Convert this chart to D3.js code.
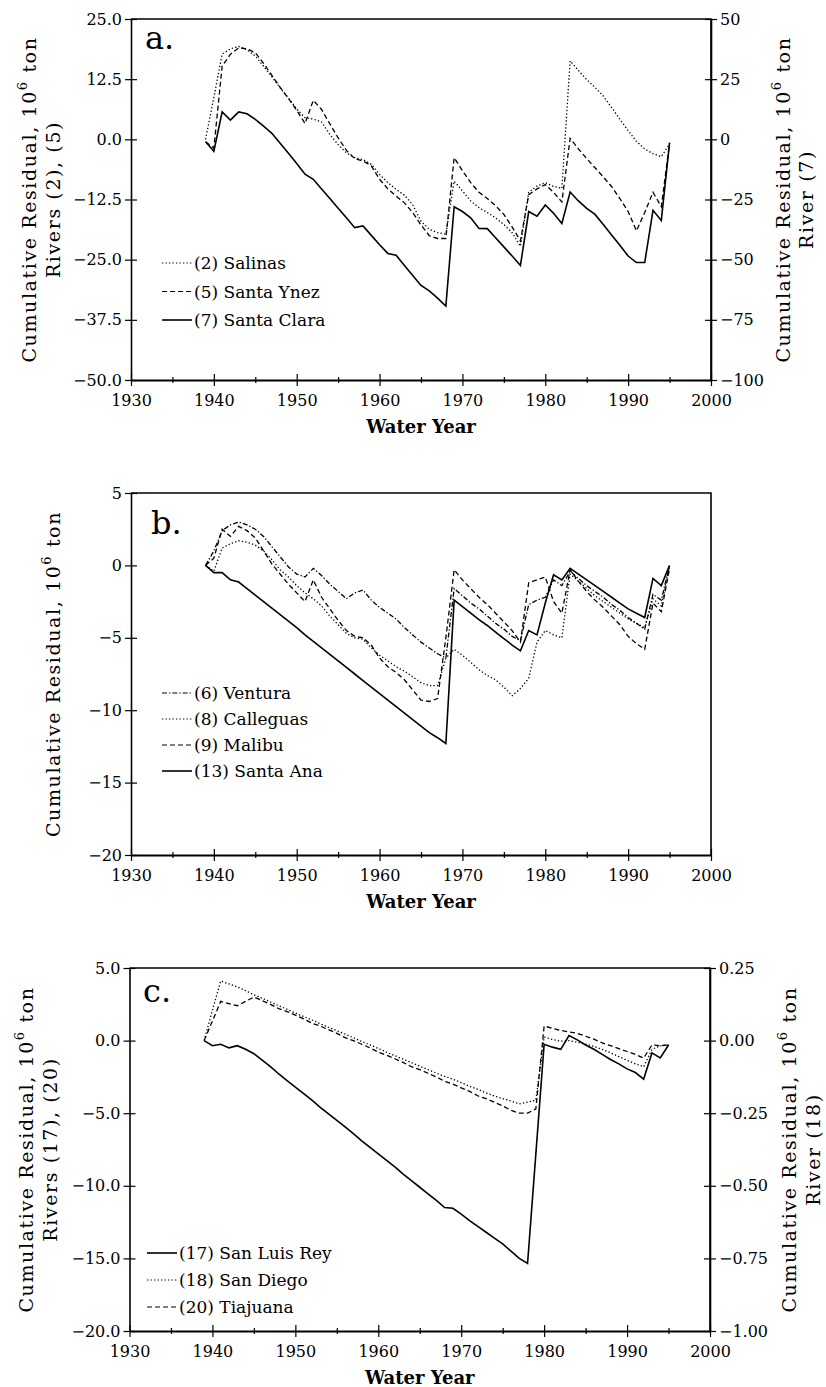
<!DOCTYPE html>
<html>
<head>
<meta charset="utf-8">
<script src="https://cdn.jsdelivr.net/npm/d3@7"></script>
<style>
body { margin: 0; background: #fff; }
svg text { font-family: "DejaVu Serif", serif; fill: #000; }
</style>
</head>
<body>
<div id="chart"></div>
<script>
var years = d3.range(1939, 1996);

// a. left axis rivers (2), (5); right axis river (7)
var salinas = [0.0, 8.7, 17.7, 18.8, 19.3, 18.6, 17.3, 15.2, 13.0, 10.7,
  8.6, 6.3, 4.5, 4.2, 3.6, 1.0, -1.1, -2.8, -3.8, -4.2,
  -5.2, -7.3, -9.0, -10.4, -11.6, -13.6, -17.0, -18.7, -19.4, -19.7,
  -8.7, -10.7, -12.8, -14.2, -15.2, -16.3, -17.7, -19.4, -22.2, -11.0,
  -9.7, -9.0, -9.8, -10.2, 16.3, 14.3, 12.4, 10.8, 9.0, 6.6,
  4.2, 1.8, -0.4, -2.0, -3.0, -3.6, -1.0];
var santaYnez = [-0.5, -1.8, 15.2, 17.7, 19.0, 18.8, 18.0, 15.8, 13.3, 10.8,
  8.5, 6.0, 3.3, 8.1, 6.2, 3.2, 0.3, -2.3, -4.0, -4.5,
  -5.5, -8.3, -10.3, -11.8, -13.2, -15.2, -17.8, -20.0, -20.6, -20.6,
  -3.8, -6.5, -9.0, -11.0, -12.3, -13.8, -15.6, -18.2, -21.1, -11.5,
  -10.3, -9.4, -11.0, -13.0, 0.2, -2.0, -4.0, -5.9, -7.8, -9.8,
  -12.3, -15.0, -19.0, -15.2, -11.0, -14.0, -0.8];
var santaClara = [-1.0, -5.0, 11.4, 8.0, 11.4, 10.6, 8.3, 5.5, 2.5, -1.6,
  -5.8, -10.0, -14.5, -16.6, -20.6, -24.6, -28.6, -32.6, -36.7, -36.0,
  -39.9, -43.8, -47.4, -48.2, -52.4, -56.6, -60.7, -63.0, -66.0, -69.3,
  -28.0, -30.0, -32.6, -37.0, -37.1, -40.9, -44.7, -48.5, -52.4, -30.0,
  -31.9, -27.3, -30.7, -35.0, -21.9, -25.6, -28.7, -31.2, -35.4, -39.7,
  -44.0, -48.5, -51.2, -51.2, -29.5, -33.7, -1.4];

// b.
var ventura = [0.0, 1.0, 2.4, 2.8, 3.0, 2.8, 2.5, 2.0, 1.3, 0.6,
  -0.1, -0.6, -0.8, -0.2, -0.7, -1.3, -1.8, -2.3, -1.9, -1.7,
  -2.4, -2.9, -3.3, -3.7, -4.3, -4.8, -5.3, -5.7, -6.1, -6.4,
  -1.6, -2.1, -2.6, -3.0, -3.5, -4.0, -4.4, -4.9, -5.2, -2.7,
  -2.4, -2.2, -1.0, -1.4, -0.4, -0.9, -1.4, -1.8, -2.2, -2.7,
  -3.1, -3.6, -4.0, -4.4, -2.0, -2.4, 0.0];
var calleguas = [0.0, -0.4, 1.2, 1.5, 1.7, 1.6, 1.4, 1.0, 0.4, -0.3,
  -0.8, -1.4, -1.9, -2.3, -2.8, -3.5, -4.1, -4.7, -5.0, -5.1,
  -5.7, -6.2, -6.6, -7.0, -7.3, -7.7, -8.1, -8.3, -8.3, -6.4,
  -5.8, -6.2, -6.7, -7.2, -7.6, -7.9, -8.4, -9.0, -8.5, -7.8,
  -5.3, -4.5, -4.8, -5.0, -0.6, -1.1, -1.6, -2.1, -2.5, -2.9,
  -3.3, -3.7, -4.0, -4.3, -2.3, -2.8, -0.1];
var malibu = [0.0, 0.5, 2.5, 2.0, 2.7, 2.4, 1.9, 1.0, 0.1, -0.6,
  -1.3, -1.9, -2.5, -1.0, -2.2, -3.0, -3.8, -4.5, -4.9, -5.0,
  -5.5, -6.4, -7.0, -7.4, -7.9, -8.6, -9.3, -9.4, -9.2, -5.0,
  -0.3, -1.0, -1.6, -2.2, -2.7, -3.3, -3.9, -4.5, -5.3, -1.2,
  -1.0, -0.8, -2.5, -3.3, -0.3, -1.1, -1.8, -2.4, -2.9, -3.5,
  -4.1, -4.9, -5.4, -5.8, -2.6, -3.2, -0.2];
var santaAna = [0.0, -0.5, -0.5, -1.0, -1.15, -1.6, -2.05, -2.5, -2.95, -3.4,
  -3.85, -4.3, -4.8, -5.25, -5.7, -6.15, -6.6, -7.05, -7.5, -7.95,
  -8.4, -8.85, -9.3, -9.75, -10.2, -10.65, -11.1, -11.55, -11.9, -12.3,
  -2.4, -2.85, -3.3, -3.75, -4.15, -4.6, -5.05, -5.5, -5.9, -4.5,
  -4.8, -2.6, -0.65, -1.0, -0.2, -0.6, -1.0, -1.4, -1.8, -2.2,
  -2.6, -3.0, -3.3, -3.6, -0.9, -1.4, 0.0];

// c. left axis rivers (17), (20); right axis river (18)
var sanLuisRey = [0.0, -0.35, -0.25, -0.5, -0.35, -0.6, -0.9, -1.35, -1.8, -2.3,
  -2.75, -3.2, -3.65, -4.1, -4.6, -5.05, -5.5, -5.95, -6.4, -6.9,
  -7.35, -7.8, -8.25, -8.7, -9.2, -9.65, -10.1, -10.55, -11.0, -11.5,
  -11.55, -11.95, -12.4, -12.8, -13.2, -13.6, -14.0, -14.5, -15.0, -15.35,
  -7.8, -0.25, -0.45, -0.6, 0.35, 0.05, -0.3, -0.6, -0.95, -1.3,
  -1.6, -1.95, -2.2, -2.65, -0.85, -1.2, -0.3];
var sanDiego = [0.0, 0.105, 0.205, 0.195, 0.185, 0.172, 0.158, 0.146, 0.133, 0.12,
  0.108, 0.095, 0.083, 0.071, 0.058, 0.046, 0.034, 0.022, 0.01, -0.003,
  -0.015, -0.027, -0.04, -0.052, -0.064, -0.076, -0.088, -0.1, -0.112, -0.123,
  -0.133, -0.145, -0.157, -0.168, -0.18, -0.191, -0.2, -0.208, -0.218, -0.212,
  -0.205, 0.012, 0.004, -0.002, 0.0, -0.006, -0.012, -0.02, -0.03, -0.042,
  -0.055, -0.068, -0.08, -0.09, -0.03, -0.018, -0.015];
var tijuana = [0.0, 1.35, 2.7, 2.55, 2.4, 2.7, 3.0, 2.75, 2.5, 2.2,
  2.0, 1.75, 1.5, 1.2, 1.0, 0.75, 0.5, 0.2, 0.0, -0.25,
  -0.5, -0.8, -1.0, -1.25, -1.5, -1.8, -2.0, -2.25, -2.5, -2.8,
  -3.0, -3.25, -3.5, -3.8, -4.0, -4.25, -4.5, -4.8, -5.0, -5.0,
  -4.7, 1.0, 0.85, 0.7, 0.6, 0.5, 0.3, 0.1, -0.15, -0.35,
  -0.55, -0.75, -0.95, -1.2, -0.3, -0.35, -0.3];

var xTicks = [1930, 1940, 1950, 1960, 1970, 1980, 1990, 2000];
var xMinor = [1935, 1945, 1955, 1965, 1975, 1985, 1995];
var ticksA = [-50, -37.5, -25, -12.5, 0, 12.5, 25];
var ticksARight = [-100, -75, -50, -25, 0, 25, 50];
var ticksB = [-20, -15, -10, -5, 0, 5];
var ticksC = [-20, -15, -10, -5, 0, 5];
var ticksCRight = [-1, -0.75, -0.5, -0.25, 0, 0.25];

var dotted = "1.3,2.2", dashed = "5,3", dashdot = "5,2,1.3,2";

var svg = d3.select("#chart").append("svg")
  .attr("width", 826).attr("height", 1387);

function title(g, x, y, txt, sup, rest) {
  var t = g.append("text")
    .attr("transform", "translate(" + x + "," + y + ") rotate(-90)")
    .attr("text-anchor", "middle")
    .attr("dominant-baseline", "central")
    .style("font-size", "19px")
    .style("letter-spacing", "1.6px");
  t.append("tspan").text(txt);
  if (sup) {
    t.append("tspan").attr("dy", -7).style("font-size", "13px").text(sup);
    t.append("tspan").attr("dy", 7).text(rest);
  }
}

function panel(p) {
  var x = d3.scaleLinear().domain([1930, 2000]).range([p.left, p.right]);
  var y = d3.scaleLinear().domain(p.yDomain).range([p.bottom, p.top]);
  var y2 = p.y2Domain ? d3.scaleLinear().domain(p.y2Domain).range([p.bottom, p.top]) : null;
  var g = svg.append("g");

  // top and right border
  g.append("path")
    .attr("d", "M" + p.left + "," + p.top + "H" + p.right + "V" + p.bottom)
    .attr("fill", "none").attr("stroke", "#000").attr("stroke-width", 1.6);

  var ax = g.append("g").attr("transform", "translate(" + p.left + ",0)")
    .call(d3.axisLeft(y).tickValues(p.ticks).tickFormat(d3.format(p.fmt))
      .tickSize(6).tickPadding(3).tickSizeOuter(0));
  ax.selectAll(".tick line").attr("x1", 6);

  var bx = g.append("g").attr("transform", "translate(0," + p.bottom + ")")
    .call(d3.axisBottom(x).tickValues(xTicks).tickFormat(d3.format("d"))
      .tickSize(6).tickPadding(9).tickSizeOuter(0));
  bx.selectAll(".tick line").attr("y1", -6);
  bx.select(".domain").attr("stroke-width", 2.2);
  var mx = g.append("g").attr("transform", "translate(0," + p.bottom + ")")
    .call(d3.axisBottom(x).tickValues(xMinor).tickFormat("").tickSize(3).tickSizeOuter(0));
  mx.selectAll(".tick line").attr("y1", -3);
  mx.select(".domain").remove();

  if (y2) {
    var rx = g.append("g").attr("transform", "translate(" + p.right + ",0)")
      .call(d3.axisRight(y2).tickValues(p.ticks2).tickFormat(d3.format(p.fmt2))
        .tickSize(6).tickPadding(3).tickSizeOuter(0));
    rx.selectAll(".tick line").attr("x1", -6);
    rx.select(".domain").attr("stroke-width", 1.6);
    rx.selectAll("text").style("font-size", "16px").attr("font-family", null);
  }
  [ax, bx].forEach(function (a) {
    a.attr("font-family", null).selectAll("text").style("font-size", "16px");
    a.select(".domain").attr("stroke", "#000");
  });
  ax.select(".domain").attr("stroke-width", 1.6);
  g.selectAll(".tick line").attr("stroke", "#000").attr("stroke-width", 1.2);

  // series
  p.series.forEach(function (s) {
    var sc = s.right ? y2 : y;
    var line = d3.line()
      .x(function (d, i) { return x(years[i]); })
      .y(function (d) { return sc(d); });
    g.append("path").datum(s.values)
      .attr("d", line)
      .attr("fill", "none")
      .attr("stroke", "#000")
      .attr("stroke-width", s.dash ? 1.3 : 1.6)
      .attr("stroke-dasharray", s.dash);
  });

  // legend
  p.legend.forEach(function (s, i) {
    var ly = p.legendY + i * p.legendStep;
    g.append("line")
      .attr("x1", p.legendX).attr("x2", p.legendX + 30)
      .attr("y1", ly).attr("y2", ly)
      .attr("stroke", "#000").attr("stroke-width", s.dash ? 1.1 : 1.6)
      .attr("stroke-dasharray", s.dash);
    g.append("text")
      .attr("x", p.legendX + 32).attr("y", ly)
      .attr("dominant-baseline", "central")
      .style("font-size", "17px")
      .text(s.name);
  });

  // panel letter
  g.append("text").attr("x", p.letterX).attr("y", p.letterY)
    .style("font-size", "32px").text(p.letter);

  // x title
  g.append("text")
    .attr("x", (p.left + p.right) / 2).attr("y", p.bottom + 53)
    .attr("text-anchor", "middle")
    .style("font-size", "18px").style("font-weight", "bold")
    .text("Water Year");

  var cy = (p.top + p.bottom) / 2;
  title(g, p.t1x, cy, "Cumulative Residual, 10", "6", " ton");
  if (p.t2) title(g, p.t2x, cy, p.t2);
  if (p.r1x) {
    title(g, p.r1x, cy, "Cumulative Residual, 10", "6", " ton");
    title(g, p.r2x, cy, p.r2);
  }
}

var seriesA = [
  { name: "(2) Salinas", values: salinas, dash: dotted },
  { name: "(5) Santa Ynez", values: santaYnez, dash: dashed },
  { name: "(7) Santa Clara", values: santaClara, right: true }
];
panel({
  left: 131, right: 711, top: 19, bottom: 380,
  yDomain: [-50, 25], ticks: ticksA, fmt: ".1f",
  y2Domain: [-100, 50], ticks2: ticksARight, fmt2: "d",
  series: seriesA, legend: seriesA,
  legendX: 162, legendY: 263, legendStep: 28.5,
  letter: "a.", letterX: 145, letterY: 49,
  t1x: 29, t2x: 53, t2: "Rivers (2), (5)",
  r1x: 783, r2x: 806, r2: "River (7)"
});

var seriesB = [
  { name: "(6) Ventura", values: ventura, dash: dashdot },
  { name: "(8) Calleguas", values: calleguas, dash: dotted },
  { name: "(9) Malibu", values: malibu, dash: dashed },
  { name: "(13) Santa Ana", values: santaAna }
];
panel({
  left: 131, right: 711, top: 493, bottom: 855,
  yDomain: [-20, 5], ticks: ticksB, fmt: "d",
  series: seriesB, legend: seriesB,
  legendX: 162, legendY: 693, legendStep: 26,
  letter: "b.", letterX: 151, letterY: 534,
  t1x: 53
});

var seriesC = [
  { name: "(17) San Luis Rey", values: sanLuisRey },
  { name: "(18) San Diego", values: sanDiego, dash: dotted, right: true },
  { name: "(20) Tiajuana", values: tijuana, dash: dashed }
];
panel({
  left: 129.5, right: 710, top: 968, bottom: 1331,
  yDomain: [-20, 5], ticks: ticksC, fmt: ".1f",
  y2Domain: [-1, 0.25], ticks2: ticksCRight, fmt2: ".2f",
  series: seriesC, legend: seriesC,
  legendX: 147, legendY: 1253, legendStep: 27,
  letter: "c.", letterX: 143, letterY: 1002,
  t1x: 26, t2x: 50, t2: "Rivers (17), (20)",
  r1x: 789, r2x: 813, r2: "River (18)"
});
</script>
</body>
</html>
